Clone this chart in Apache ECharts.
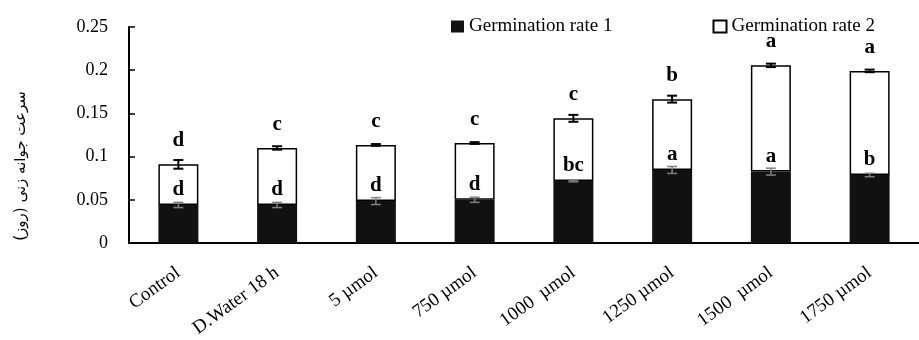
<!DOCTYPE html>
<html>
<head>
<meta charset="utf-8">
<script src="https://cdn.jsdelivr.net/npm/echarts@6/dist/echarts.min.js"></script>
<style>html,body{margin:0;padding:0;background:#fff}#c{width:919px;height:340px}</style>
</head>
<body>
<div id="c"></div>
<script>
const categories = ['Control', 'D.Water 18 h', '5 µmol', '750 µmol', '1000  µmol', '1250 µmol', '1500  µmol', '1750 µmol'];
const rate1 = [0.044, 0.044, 0.0485, 0.050, 0.0718, 0.0845, 0.0826, 0.0787];
const rate2 = [0.047, 0.066, 0.065, 0.0657, 0.0725, 0.082, 0.123, 0.1205];
const err1 = [0.003, 0.003, 0.004, 0.003, 0.001, 0.004, 0.004, 0.002];
const err2 = [0.005, 0.002, 0.001, 0.001, 0.004, 0.004, 0.002, 0.0015];
const lettersTop = ['d', 'c', 'c', 'c', 'c', 'b', 'a', 'a'];
const lettersInner = ['d', 'd', 'd', 'd', 'bc', 'a', 'a', 'b'];
const yTicks = { min: 0, max: 0.25, interval: 0.05 };
const yName = 'سرعت جوانه زنی (روز)';

const totals = rate1.map((v, i) => v + rate2[i]);
const serif = '"Liberation Serif", "Times New Roman", serif';

function errRender(color, lw) {
  return function (params, api) {
    const x = api.value(0), y = api.value(1), e = api.value(2);
    const t = api.coord([x, y + e]);
    const b = api.coord([x, y - e]);
    const hw = 5;
    const st = { stroke: color, lineWidth: lw };
    return {
      type: 'group',
      children: [
        { type: 'line', shape: { x1: t[0], y1: t[1], x2: b[0], y2: b[1] }, style: st },
        { type: 'line', shape: { x1: t[0] - hw, y1: t[1], x2: t[0] + hw, y2: t[1] }, style: st },
        { type: 'line', shape: { x1: b[0] - hw, y1: b[1], x2: b[0] + hw, y2: b[1] }, style: st }
      ]
    };
  };
}

const chart = echarts.init(document.getElementById('c'), null, { renderer: 'canvas' });
chart.setOption({
  animation: false,
  backgroundColor: '#ffffff',
  textStyle: { fontFamily: serif, color: '#000' },
  grid: { left: 129, top: 27, width: 802, height: 216, containLabel: false },
  legend: {
    left: 446, top: 12,
    itemWidth: 13, itemHeight: 12, itemGap: 100,
    icon: 'rect',
    textStyle: { fontFamily: serif, fontSize: 19, color: '#000' },
    data: ['Germination rate 1', 'Germination rate 2']
  },
  xAxis: {
    type: 'category',
    data: categories,
    axisLine: { lineStyle: { color: '#000', width: 2 } },
    axisTick: { show: false },
    axisLabel: { rotate: 36, margin: 28, fontFamily: serif, fontSize: 19, color: '#000', interval: 0 }
  },
  yAxis: {
    type: 'value',
    min: yTicks.min, max: yTicks.max, interval: yTicks.interval,
    axisLine: { show: true, lineStyle: { color: '#000', width: 2 } },
    axisTick: { show: true, inside: true, length: 6, lineStyle: { color: '#000', width: 1.5 } },
    splitLine: { show: false },
    axisLabel: { margin: 21, fontFamily: serif, fontSize: 18, color: '#000' }
  },
  graphic: [{
    type: 'text',
    x: 21, y: 166,
    rotation: Math.PI / 2,
    style: {
      text: yName,
      fontFamily: '"DejaVu Sans", sans-serif',
      fontSize: 15,
      fill: '#000',
      align: 'center',
      verticalAlign: 'middle'
    }
  }],
  series: [
    {
      name: 'Germination rate 1',
      type: 'bar',
      stack: 'g',
      barWidth: 40,
      z: 3,
      data: rate1,
      itemStyle: { color: '#111111' },
      label: {
        show: true, position: 'top', distance: 5,
        formatter: p => lettersInner[p.dataIndex],
        fontFamily: serif, fontWeight: 'bold', fontSize: 21, color: '#000'
      }
    },
    {
      name: 'Germination rate 2',
      type: 'bar',
      stack: 'g',
      barWidth: 40,
      z: 2,
      data: rate2,
      itemStyle: { color: '#ffffff', borderColor: '#000', borderWidth: 1.5 },
      label: {
        show: true, position: 'top', distance: 13,
        formatter: p => lettersTop[p.dataIndex],
        fontFamily: serif, fontWeight: 'bold', fontSize: 21, color: '#000'
      }
    },
    {
      type: 'custom',
      z: 5,
      silent: true,
      renderItem: errRender('#000', 2),
      data: totals.map((v, i) => [i, v, err2[i]])
    },
    {
      type: 'custom',
      z: 5,
      silent: true,
      renderItem: errRender('#808080', 1.5),
      data: rate1.map((v, i) => [i, v, err1[i]])
    }
  ]
});
</script>
</body>
</html>
